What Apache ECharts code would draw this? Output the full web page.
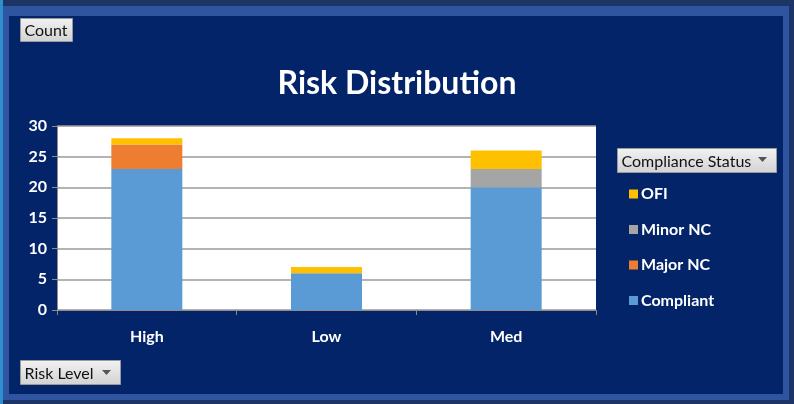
<!DOCTYPE html>
<html>
<head>
<meta charset="utf-8">
<script src="https://cdn.jsdelivr.net/npm/echarts@6/dist/echarts.min.js"></script>
<style>
  html, body { margin: 0; padding: 0; background: #1d3566; }
  #chart { width: 794px; height: 404px; }
</style>
</head>
<body>
<div id="chart"></div>
<script>
var categories = ["High", "Low", "Med"];
var compliant = [23, 6, 20];
var majorNC = [4, 0, 0];
var minorNC = [0, 0, 3];
var ofi = [1, 1, 3];
var yTicks = [0, 5, 10, 15, 20, 25, 30];

var font = "Lato, 'Open Sans', 'DejaVu Sans', sans-serif";

// a gray pivot-field button like Excel draws them
function fieldButton(x, y, w, h, label) {
    return {
        type: "group",
        left: x,
        top: y,
        children: [{
            type: "rect",
            shape: { x: 0, y: 0, width: w, height: h },
            style: {
                fill: new echarts.graphic.LinearGradient(0, 0, 0, 1, [
                    { offset: 0, color: "#f2f2f2" },
                    { offset: 1, color: "#d2d2d2" }
                ]),
                stroke: "#9a9a9a",
                lineWidth: 1
            }
        }, {
            type: "text",
            x: 4,
            y: h / 2 + 1,
            style: {
                text: label,
                fill: "#111",
                font: "16px " + font,
                verticalAlign: "middle"
            }
        }]
    };
}

function arrow(x, y) {
    return {
        type: "polygon",
        shape: { points: [[x, y], [x + 9, y], [x + 4.5, y + 5]] },
        style: { fill: "#555" }
    };
}

var chart = echarts.init(document.getElementById("chart"));
var option = {
    backgroundColor: "#1d3566",
    animation: false,
    graphic: [{
        type: "rect",
        z: -10,
        shape: { x: 3, y: 6, width: 786, height: 394 },
        style: { fill: "#2f55a0" }
    }, {
        type: "rect",
        z: -9,
        shape: { x: 9, y: 16, width: 774, height: 378 },
        style: { fill: "#04246a" }
    }, {
        type: "rect",
        z: -8,
        shape: { x: 0, y: 0, width: 3, height: 404 },
        style: { fill: "#2e8fd0" }
    },
        fieldButton(20, 18, 52, 23, "Count"),
        fieldButton(617, 148, 159, 24, "Compliance Status"),
        fieldButton(20, 360, 100, 24, "Risk Level"),
        arrow(758, 157),
        arrow(102, 370)
    ],
    title: {
        text: "Risk Distribution",
        left: "center",
        top: 63,
        textStyle: {
            color: "#ffffff",
            fontSize: 32,
            fontWeight: "bold",
            fontFamily: font
        }
    },
    color: ["#5b9bd5", "#ed7d31", "#a5a5a5", "#ffc000"],
    legend: {
        orient: "vertical",
        left: 624,
        top: 180,
        itemWidth: 9,
        itemHeight: 9,
        itemGap: 17.5,
        icon: "rect",
        data: ["OFI", "Minor NC", "Major NC", "Compliant"],
        textStyle: {
            color: "#ffffff",
            fontSize: 16,
            lineHeight: 18,
            fontWeight: "bold",
            fontFamily: font,
            padding: [0, 0, 0, -2]
        }
    },
    grid: {
        left: 57,
        right: 198,
        top: 126,
        bottom: 94,
        show: true,
        backgroundColor: "#ffffff",
        borderWidth: 0
    },
    xAxis: {
        type: "category",
        data: categories,
        axisLine: { lineStyle: { color: "#8c8c8c", width: 1 } },
        axisTick: { show: true, length: 5, lineStyle: { color: "#8c8c8c" } },
        axisLabel: {
            color: "#ffffff",
            fontSize: 16,
            fontWeight: "bold",
            fontFamily: font,
            margin: 19
        }
    },
    yAxis: {
        type: "value",
        min: yTicks[0],
        max: yTicks[yTicks.length - 1],
        interval: 5,
        axisLine: { show: true, lineStyle: { color: "#8c8c8c" } },
        axisTick: { show: true, length: 5, lineStyle: { color: "#8c8c8c" } },
        splitLine: { lineStyle: { color: "#9a9a9a", width: 1.5 } },
        axisLabel: {
            color: "#ffffff",
            fontSize: 16,
            fontWeight: "bold",
            fontFamily: font,
            margin: 10
        }
    },
    series: [{
        name: "Compliant",
        type: "bar",
        stack: "total",
        barWidth: 71,
        data: compliant
    }, {
        name: "Major NC",
        type: "bar",
        stack: "total",
        data: majorNC
    }, {
        name: "Minor NC",
        type: "bar",
        stack: "total",
        data: minorNC
    }, {
        name: "OFI",
        type: "bar",
        stack: "total",
        data: ofi
    }]
};

chart.setOption(option);
</script>
</body>
</html>
